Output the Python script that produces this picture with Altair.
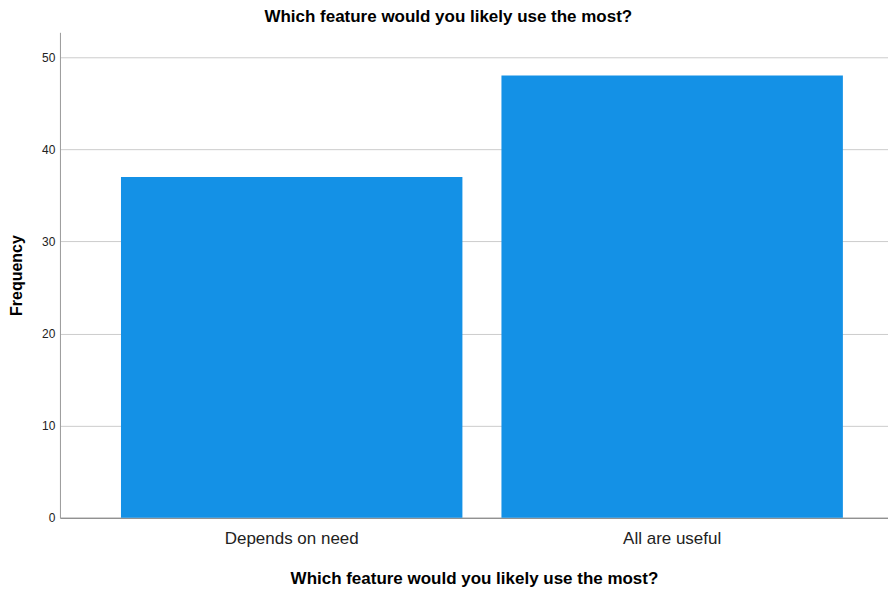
import altair as alt
import pandas as pd

categories = ["Depends on need", "All are useful"]
frequencies = [37, 48]
title_text = "Which feature would you likely use the most?"

df = pd.DataFrame({"category": categories, "frequency": frequencies})

chart = alt.Chart(df).mark_bar(color="#1491e6").encode(
    x=alt.X(
        "category:N",
        sort=categories,
        title=title_text,
        scale=alt.Scale(paddingInner=0.1026, paddingOuter=0.1395, align=0.575),
        axis=alt.Axis(
            labelAngle=0,
            labelFont="Liberation Sans",
            labelFontSize=17,
            labelColor="#222222",
            labelPadding=13,
            ticks=False,
            domainColor="#777777",
            titleFont="Liberation Sans",
            titleFontSize=17,
            titleFontWeight="bold",
            titleColor="#000000",
            titlePadding=24,
        ),
    ),
    y=alt.Y(
        "frequency:Q",
        title="Frequency",
        scale=alt.Scale(domain=[0, 52.7], nice=False),
        axis=alt.Axis(
            values=[0, 10, 20, 30, 40, 50],
            labelFont="Liberation Sans",
            labelFontSize=12,
            labelColor="#222222",
            labelPadding=5,
            ticks=False,
            domainColor="#999999",
            gridColor="#cccccc",
            titleFont="Liberation Sans",
            titleFontSize=16,
            titleFontWeight="bold",
            titleColor="#000000",
            titlePadding=17,
        ),
    ),
).properties(
    width=829,
    height=486,
    padding=0,
    title=alt.TitleParams(
        title_text,
        font="Liberation Sans",
        fontSize=17,
        fontWeight="bold",
        color="#000000",
        anchor="middle",
        frame="bounds",
        offset=6,
    ),
).configure_view(stroke=None)

chart.save("out.html", embed_options={"renderer": "svg", "actions": False})
